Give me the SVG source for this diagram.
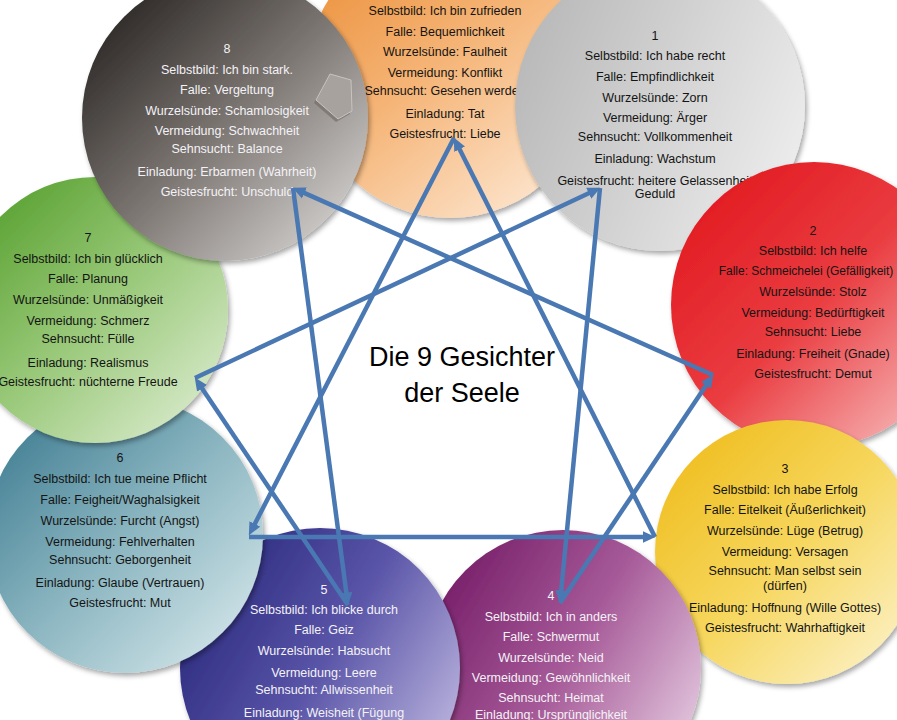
<svg xmlns="http://www.w3.org/2000/svg" width="897" height="720" viewBox="0 0 897 720">
<style>
text{font-family:"Liberation Sans",Arial,sans-serif;font-size:12.5px;text-anchor:middle}
.dk{fill:#141414}
.lt{fill:#f4f2f6}
.title{font-size:27px;fill:#000}
.conn line{stroke:#4a78b2;stroke-width:4.5;marker-end:url(#ah)}
circle{filter:url(#sh)}
</style>
<defs>
<filter id="sh" x="-10%" y="-10%" width="125%" height="125%">
<feDropShadow dx="2" dy="3" stdDeviation="2.5" flood-color="#000" flood-opacity="0.35"/>
</filter>
<marker id="ah" viewBox="0 0 12 12" refX="6" refY="6" markerWidth="13" markerHeight="13" markerUnits="userSpaceOnUse" orient="auto">
<path d="M0,0.5 L12,6 L0,11.5 Z" fill="#4a78b2"/>
</marker>
<linearGradient id="g9" x1="0" y1="0" x2="0.8" y2="1"><stop offset="0" stop-color="#ea8a30"/><stop offset="0.5" stop-color="#f5b476"/><stop offset="1" stop-color="#fde6d0"/></linearGradient>
<linearGradient id="g1" x1="0" y1="0.3" x2="1" y2="0.7"><stop offset="0" stop-color="#b8b8b8"/><stop offset="1" stop-color="#ededed"/></linearGradient>
<linearGradient id="g8" x1="0" y1="0" x2="1" y2="1"><stop offset="0" stop-color="#161211"/><stop offset="0.5" stop-color="#7a7470"/><stop offset="1" stop-color="#e6e4e2"/></linearGradient>
<linearGradient id="g7" x1="0" y1="0" x2="1" y2="1"><stop offset="0" stop-color="#4a9820"/><stop offset="0.5" stop-color="#98c878"/><stop offset="1" stop-color="#e6f1dc"/></linearGradient>
<linearGradient id="g2" x1="0" y1="0" x2="1" y2="1"><stop offset="0" stop-color="#e0121a"/><stop offset="0.5" stop-color="#ea3c40"/><stop offset="1" stop-color="#f9d0d0"/></linearGradient>
<linearGradient id="g6" x1="0" y1="0" x2="1" y2="1"><stop offset="0" stop-color="#33738a"/><stop offset="0.5" stop-color="#8ab5c0"/><stop offset="1" stop-color="#e0eef1"/></linearGradient>
<linearGradient id="g3" x1="0" y1="0" x2="1" y2="1"><stop offset="0" stop-color="#eeb812"/><stop offset="0.5" stop-color="#f6d65c"/><stop offset="1" stop-color="#fdf6da"/></linearGradient>
<linearGradient id="g5" x1="0" y1="0.2" x2="1" y2="0.8"><stop offset="0" stop-color="#26267a"/><stop offset="0.5" stop-color="#5a55a8"/><stop offset="1" stop-color="#c2bbe2"/></linearGradient>
<linearGradient id="g4" x1="0" y1="0.2" x2="1" y2="0.8"><stop offset="0" stop-color="#741a66"/><stop offset="0.5" stop-color="#a65a98"/><stop offset="1" stop-color="#e8d0e4"/></linearGradient>
</defs>
<rect width="897" height="720" fill="#ffffff"/>

<g id="node9">
<circle cx="450" cy="75" r="143" fill="url(#g9)"/>
<text class="dk" x="445" y="14.5">Selbstbild: Ich bin zufrieden</text>
<text class="dk" x="445" y="35.5">Falle: Bequemlichkeit</text>
<text class="dk" x="445" y="56">Wurzelsünde: Faulheit</text>
<text class="dk" x="445" y="77">Vermeidung: Konflikt</text>
<text class="dk" x="445" y="94.5">Sehnsucht: Gesehen werden</text>
<text class="dk" x="445" y="118">Einladung: Tat</text>
<text class="dk" x="445" y="137.5">Geistesfrucht: Liebe</text>
</g>

<g id="node1">
<circle cx="660" cy="106" r="145" fill="url(#g1)"/>
<text class="dk" x="655" y="39.5">1</text>
<text class="dk" x="655" y="59.5">Selbstbild: Ich habe recht</text>
<text class="dk" x="655" y="81">Falle: Empfindlichkeit</text>
<text class="dk" x="655" y="102">Wurzelsünde: Zorn</text>
<text class="dk" x="655" y="121.5">Vermeidung: Ärger</text>
<text class="dk" x="655" y="141">Sehnsucht: Vollkommenheit</text>
<text class="dk" x="655" y="162.5">Einladung: Wachstum</text>
<text class="dk" x="655" y="184.5">Geistesfrucht: heitere Gelassenheit</text>
<text class="dk" x="655" y="198">Geduld</text>
</g>

<g id="node2">
<circle cx="814" cy="305" r="143" fill="url(#g2)"/>
<text class="dk" x="813" y="234.5">2</text>
<text class="dk" x="813" y="254.5">Selbstbild: Ich helfe</text>
<text class="dk" x="806" y="274.5" style="font-size:12px">Falle: Schmeichelei (Gefälligkeit)</text>
<text class="dk" x="813" y="295.5">Wurzelsünde: Stolz</text>
<text class="dk" x="813" y="316.5">Vermeidung: Bedürftigkeit</text>
<text class="dk" x="813" y="335.5">Sehnsucht: Liebe</text>
<text class="dk" x="813" y="357.5">Einladung: Freiheit (Gnade)</text>
<text class="dk" x="813" y="377.5">Geistesfrucht: Demut</text>
</g>

<g id="node3">
<circle cx="787" cy="552" r="132" fill="url(#g3)"/>
<text class="dk" x="785" y="472.5">3</text>
<text class="dk" x="785" y="493.5">Selbstbild: Ich habe Erfolg</text>
<text class="dk" x="785" y="513.5">Falle: Eitelkeit (Äußerlichkeit)</text>
<text class="dk" x="785" y="534.5">Wurzelsünde: Lüge (Betrug)</text>
<text class="dk" x="785" y="555.5">Vermeidung: Versagen</text>
<text class="dk" x="785" y="574.5">Sehnsucht: Man selbst sein</text>
<text class="dk" x="785" y="589.5">(dürfen)</text>
<text class="dk" x="785" y="611.5">Einladung: Hoffnung (Wille Gottes)</text>
<text class="dk" x="785" y="631.5">Geistesfrucht: Wahrhaftigkeit</text>
</g>

<g id="node4">
<circle cx="563" cy="668" r="138" fill="url(#g4)"/>
<text class="lt" x="551" y="599.5">4</text>
<text class="lt" x="551" y="620.5">Selbstbild: Ich in anders</text>
<text class="lt" x="551" y="640.5">Falle: Schwermut</text>
<text class="lt" x="551" y="661.5">Wurzelsünde: Neid</text>
<text class="lt" x="551" y="681.5">Vermeidung: Gewöhnlichkeit</text>
<text class="lt" x="551" y="701.5">Sehnsucht: Heimat</text>
<text class="lt" x="551" y="718.5">Einladung: Ursprünglichkeit</text>
</g>

<g id="node5">
<circle cx="320" cy="668" r="140" fill="url(#g5)"/>
<text class="lt" x="324" y="593.5">5</text>
<text class="lt" x="324" y="613.5">Selbstbild: Ich blicke durch</text>
<text class="lt" x="324" y="633.5">Falle: Geiz</text>
<text class="lt" x="324" y="654.5">Wurzelsünde: Habsucht</text>
<text class="lt" x="324" y="676.5">Vermeidung: Leere</text>
<text class="lt" x="324" y="693.5">Sehnsucht: Allwissenheit</text>
<text class="lt" x="324" y="716.5">Einladung: Weisheit (Fügung</text>
</g>

<g id="node6">
<circle cx="125" cy="535" r="138" fill="url(#g6)"/>
<text class="dk" x="120" y="461.5">6</text>
<text class="dk" x="120" y="482.5">Selbstbild: Ich tue meine Pflicht</text>
<text class="dk" x="120" y="503.5">Falle: Feigheit/Waghalsigkeit</text>
<text class="dk" x="120" y="524.5">Wurzelsünde: Furcht (Angst)</text>
<text class="dk" x="120" y="545.5">Vermeidung: Fehlverhalten</text>
<text class="dk" x="120" y="563.5">Sehnsucht: Geborgenheit</text>
<text class="dk" x="120" y="586.5">Einladung: Glaube (Vertrauen)</text>
<text class="dk" x="120" y="606.5">Geistesfrucht: Mut</text>
</g>

<g id="node7">
<circle cx="95" cy="310" r="133" fill="url(#g7)"/>
<text class="dk" x="88" y="241.5">7</text>
<text class="dk" x="88" y="262.5">Selbstbild: Ich bin glücklich</text>
<text class="dk" x="88" y="282.5">Falle: Planung</text>
<text class="dk" x="88" y="303.5">Wurzelsünde: Unmäßigkeit</text>
<text class="dk" x="88" y="324.5">Vermeidung: Schmerz</text>
<text class="dk" x="88" y="342.5">Sehnsucht: Fülle</text>
<text class="dk" x="88" y="366.5">Einladung: Realismus</text>
<text class="dk" x="88" y="385.5">Geistesfrucht: nüchterne Freude</text>
</g>

<g id="node8">
<circle cx="225" cy="118" r="143" fill="url(#g8)"/>
<polygon points="330,74 351,80 352,111 338,119 316,100" fill="#6e6864" transform="translate(-2,3)" opacity="0.6"/>
<polygon points="330,74 351,80 352,111 338,119 316,100" fill="#a8a29e" stroke="#c8c4c0" stroke-width="1"/>
<text class="lt" x="227" y="52.5">8</text>
<text class="lt" x="227" y="73.5">Selbstbild: Ich bin stark.</text>
<text class="lt" x="227" y="93.5">Falle: Vergeltung</text>
<text class="lt" x="227" y="114.5">Wurzelsünde: Schamlosigkeit</text>
<text class="lt" x="227" y="134.5">Vermeidung: Schwachheit</text>
<text class="lt" x="227" y="152.5">Sehnsucht: Balance</text>
<text class="lt" x="227" y="176">Einladung: Erbarmen (Wahrheit)</text>
<text class="lt" x="227" y="196">Geistesfrucht: Unschuld</text>
</g>

<g id="title">
<text class="title" x="462" y="366">Die 9 Gesichter</text>
<text class="title" x="462" y="402">der Seele</text>
</g>

<g id="connectors" class="conn">
<line x1="600" y1="188" x2="560.6" y2="597"/>
<line x1="560" y1="603" x2="709.7" y2="380"/>
<line x1="713" y1="375" x2="298.5" y2="190.4"/>
<line x1="293" y1="188" x2="347.2" y2="599.1"/>
<line x1="348" y1="605" x2="198.4" y2="383"/>
<line x1="195" y1="378" x2="594.6" y2="190.5"/>
<line x1="454" y1="138" x2="251.8" y2="529.7"/>
<line x1="249" y1="537" x2="649" y2="537"/>
<line x1="655" y1="537" x2="456.7" y2="143.4"/>
</g>
</svg>
